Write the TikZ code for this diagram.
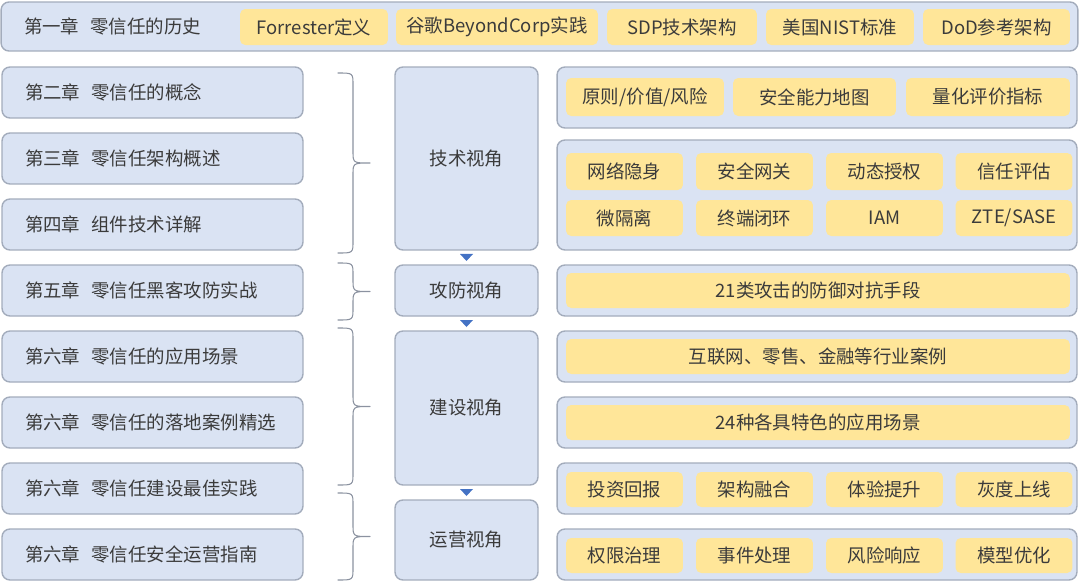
\documentclass[tikz,border=0pt]{standalone}
\usepackage{fontspec}
\setmainfont{Noto Sans CJK SC}
\definecolor{boxblue}{HTML}{DAE3F3}
\definecolor{edgegray}{HTML}{A3ACBC}
\definecolor{tagyellow}{HTML}{FFE699}
\definecolor{tritip}{HTML}{4472C4}
\definecolor{txt}{HTML}{3B3B3B}
\newcommand\chsep{\hspace{0.6em}}
\tikzset{
	panelbox/.style={draw=edgegray, fill=boxblue, line width=0.8pt, rounded corners=4.5pt, inner sep=0pt},
	chap/.style={panelbox, minimum width=6.02cm, minimum height=1.02cm, text width=5.1cm, inner xsep=0.46cm, align=left},
	viewbox/.style={panelbox, minimum width=2.86cm},
	yel/.style={fill=tagyellow, rounded corners=3pt, inner sep=0pt},
	tri/.style={fill=tritip},
	brc/.style={draw=edgegray!85!black, line width=0.6pt}
}
\begin{document}
\begin{tikzpicture}[x=0.02cm, y=-0.02cm, font=\fontsize{10.5}{12}\selectfont, text=txt, line join=round, line cap=round]
	\useasboundingbox (0,0) rectangle (1080,582);
	% chapter 1 bar
	\node[panelbox, minimum width=21.54cm, minimum height=0.98cm, text width=20.62cm, inner xsep=0.46cm, align=left] (hist) at (539.5,26.5) {第一章\chsep 零信任的历史};
	\foreach \cx/\w/\t [count=\i] in {314/2.96/Forrester定义, 497/4.04/谷歌BeyondCorp实践, 682/3.0/SDP技术架构, 840/2.96/美国NIST标准, 996.5/2.94/DoD参考架构}
		\node[yel, minimum width=\w cm, minimum height=0.72cm] (h\i) at (\cx,27) {\t};
	% chapters
	\foreach \t [count=\i] in {第二章\chsep 零信任的概念, 第三章\chsep 零信任架构概述, 第四章\chsep 组件技术详解, 第五章\chsep 零信任黑客攻防实战, 第六章\chsep 零信任的应用场景, 第六章\chsep 零信任的落地案例精选, 第六章\chsep 零信任建设最佳实践, 第六章\chsep 零信任安全运营指南}
		\node[chap] (ch\i) at (152.5,26.5+66*\i) {\t};
	% braces
	\foreach \a/\b [evaluate=\a as \m using (\a+\b)/2] in {73/253, 263/320, 328/485, 493/580}
		\draw[brc] (338,\a) .. controls (353,\a) .. (353,\a+12) -- (353,\m-12) .. controls (353,\m) .. (370,\m)
			.. controls (353,\m) .. (353,\m+12) -- (353,\b-12) .. controls (353,\b) .. (338,\b);
	% views
	\node[viewbox, minimum height=3.66cm] (tech) at (466.5,158.5) {技术视角};
	\node[viewbox, minimum height=1.02cm] (att) at (466.5,290.5) {攻防视角};
	\node[viewbox, minimum height=3.08cm] (build) at (466.5,408) {建设视角};
	\node[viewbox, minimum height=1.6cm] (ops) at (466.5,540) {运营视角};
	\foreach \a/\b [count=\i] in {tech/att, att/build, build/ops} {
		\path (\a.south) -- (\b.north) coordinate[midway] (tri\i);
		\fill[tri] (tri\i) ++(-6.5,-3.5) -- ++(13,0) -- ++(-6.5,7) -- cycle;
	}
	% right panels
	\foreach \cy/\h [count=\i] in {97.5/1.22, 195/2.2, 290.5/1.02, 356.5/1.02, 422.5/1.02, 488.5/1.02, 554.5/1.02}
		\node[panelbox, minimum width=10.4cm, minimum height=\h cm] (p\i) at (817,\cy) {};
	\foreach \cx/\w/\t [count=\i] in {645/3.16/{原则/价值/风险}, 814.5/3.26/安全能力地图, 988/3.28/量化评价指标}
		\node[yel, minimum width=\w cm, minimum height=0.76cm] (y\i) at (\cx,97) {\t};
	\foreach \cx/\t [count=\i] in {624.5/网络隐身, 754.5/安全网关, 884.5/动态授权, 1014/信任评估}
		\node[yel, minimum width=2.34cm, minimum height=0.74cm] (a\i) at (\cx,171.5) {\t};
	\foreach \cx/\t [count=\i] in {624.5/微隔离, 754.5/终端闭环, 884.5/IAM, 1014/{ZTE/SASE}}
		\node[yel, minimum width=2.34cm, minimum height=0.72cm] (b\i) at (\cx,218) {\t};
	\foreach \cy/\t/\n in {290.5/21类攻击的防御对抗手段/c, 356.5/互联网、零售、金融等行业案例/d, 422.5/24种各具特色的应用场景/e}
		\node[yel, minimum width=10.08cm, minimum height=0.7cm] (\n) at (818,\cy) {\t};
	\foreach \cx/\t [count=\i] in {624.5/投资回报, 754.5/架构融合, 884.5/体验提升, 1014/灰度上线}
		\node[yel, minimum width=2.34cm, minimum height=0.7cm] (f\i) at (\cx,489.5) {\t};
	\foreach \cx/\t [count=\i] in {624.5/权限治理, 754.5/事件处理, 884.5/风险响应, 1014/模型优化}
		\node[yel, minimum width=2.34cm, minimum height=0.7cm] (g\i) at (\cx,555.5) {\t};
\end{tikzpicture}
\end{document}
